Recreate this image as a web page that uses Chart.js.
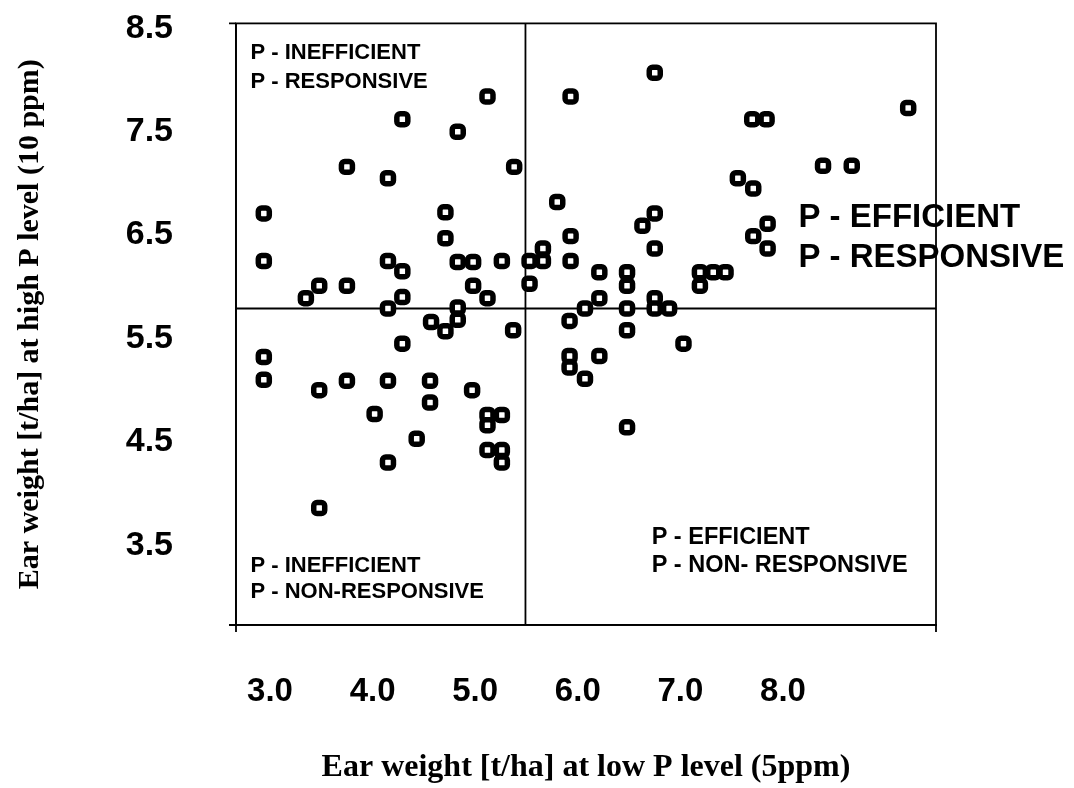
<!DOCTYPE html>
<html><head><meta charset="utf-8">
<script src="https://cdn.jsdelivr.net/npm/chart.js@4.4.1/dist/chart.umd.min.js"></script>
<style>html,body{margin:0;padding:0;background:#fff;}#wrap{width:1074px;height:788px;}</style>
</head><body><div id="wrap"><canvas id="c" width="1074" height="788"></canvas></div>
<script>
// Ear weight at low P level (x) and at high P level (y), t/ha
const lowP = [
  2.94, 2.94, 2.94, 2.94, 3.35, 3.48, 3.75, 3.75, 3.75, 3.48,
  3.48, 4.02, 4.15, 4.15, 4.15, 4.15, 4.15, 4.29, 4.29, 4.29,
  4.29, 4.43, 4.57, 4.56, 4.56, 4.71, 4.71, 4.71, 4.83, 4.83,
  4.83, 4.83, 4.98, 4.98, 4.97, 5.12, 5.12, 5.12, 5.12, 5.12,
  5.26, 5.26, 5.26, 5.26, 5.38, 5.37,
  5.53, 5.53, 5.66, 5.66, 5.80, 5.93, 5.93, 5.93, 5.92, 5.92,
  5.92, 6.07, 6.07, 6.21, 6.21, 6.21, 6.48, 6.48, 6.48, 6.48,
  6.48, 6.63, 6.75, 6.75, 6.75, 6.75, 6.75, 6.89, 7.03, 7.19,
  7.32, 7.44, 7.19, 7.56, 7.71, 7.70, 7.84, 7.71, 7.85, 7.85,
  8.39, 8.67, 9.22
];
const highP = [
  6.71, 6.25, 5.32, 5.10, 5.89, 6.01, 6.01, 7.16, 5.09, 5.00,
  3.86, 4.77, 7.05, 6.25, 5.79, 5.09, 4.30, 7.62, 6.15, 5.90,
  5.45, 4.53, 5.66, 5.09, 4.88, 6.72, 6.47, 5.57, 7.50, 6.24,
  5.80, 5.68, 6.24, 6.01, 5.00, 7.84, 5.89, 4.76, 4.66, 4.42,
  6.25, 4.76, 4.42, 4.30, 7.16, 5.58,
  6.25, 6.03, 6.37, 6.25, 6.82, 7.84, 6.49, 6.25, 5.67, 5.33,
  5.22, 5.79, 5.11, 6.14, 5.89, 5.33, 6.14, 6.01, 5.79, 5.58,
  4.64, 6.59, 8.07, 6.71, 6.37, 5.89, 5.79, 5.79, 5.45, 6.14,
  6.14, 6.14, 6.01, 7.05, 6.95, 7.62, 7.62, 6.49, 6.61, 6.37,
  7.17, 7.17, 7.73
];
const xTickValues = [3, 4, 5, 6, 7, 8];
const yTickValues = [3.5, 4.5, 5.5, 6.5, 7.5, 8.5];
const xRange = [2.669, 9.491];
const yRange = [2.728, 8.548];
const dividerX = 5.49;
const dividerY = 5.79;
const quadrantLines = [
  ["P - INEFFICIENT", "P - RESPONSIVE"],
  ["P - EFFICIENT", "P - RESPONSIVE"],
  ["P - INEFFICIENT", "P - NON-RESPONSIVE"],
  ["P - EFFICIENT", "P - NON- RESPONSIVE"]
];
const xTitle = "Ear weight [t/ha] at low P level (5ppm)";
const yTitle = "Ear weight [t/ha] at high P level (10 ppm)";

const points = lowP.map((x, i) => ({x: x, y: highP[i]}));

const SANS = '"Liberation Sans", Arial, sans-serif';
// quadrant label placement: [x value, first-line y value, line step in y units, font]
const quadrantPlace = [
  {x: 2.81, y: 8.26, dy: 0.28, font: 'bold 22px ' + SANS},
  {x: 8.15, y: 6.67, dy: 0.39, font: 'bold 33px ' + SANS},
  {x: 2.81, y: 3.30, dy: 0.25, font: 'bold 22px ' + SANS},
  {x: 6.72, y: 3.57, dy: 0.27, font: 'bold 23.5px ' + SANS}
];

const framePlugin = {
  id: 'frame',
  afterDraw(chart) {
    const {ctx, chartArea: a, scales} = chart;
    ctx.save();
    ctx.strokeStyle = '#000';
    ctx.lineWidth = 1.8;
    ctx.strokeRect(a.left, a.top, a.right - a.left, a.bottom - a.top);
    ctx.beginPath();
    ctx.moveTo(a.left - 7, a.top); ctx.lineTo(a.left, a.top);
    ctx.moveTo(a.left - 7, a.bottom); ctx.lineTo(a.left, a.bottom);
    ctx.moveTo(a.left, a.bottom); ctx.lineTo(a.left, a.bottom + 7);
    ctx.moveTo(a.right, a.bottom); ctx.lineTo(a.right, a.bottom + 7);
    ctx.stroke();
    ctx.fillStyle = '#000';
    ctx.textBaseline = 'middle';
    ctx.textAlign = 'left';
    quadrantLines.forEach((lines, qi) => {
      const p = quadrantPlace[qi];
      ctx.font = p.font;
      lines.forEach((t, li) => {
        ctx.fillText(t, scales.x.getPixelForValue(p.x), scales.y.getPixelForValue(p.y - li * p.dy));
      });
    });
    ctx.restore();
  }
};

new Chart(document.getElementById('c'), {
  type: 'scatter',
  data: {
    datasets: [
      {
        data: points,
        pointStyle: 'rectRounded',
        radius: 6.4,
        hoverRadius: 6.4,
        borderWidth: 5.5,
        borderColor: '#000',
        backgroundColor: '#fff'
      },
      {
        type: 'line',
        data: [{x: dividerX, y: yRange[0]}, {x: dividerX, y: yRange[1]}],
        borderColor: '#000', borderWidth: 1.8, pointRadius: 0, showLine: true, fill: false
      },
      {
        type: 'line',
        data: [{x: xRange[0], y: dividerY}, {x: xRange[1], y: dividerY}],
        borderColor: '#000', borderWidth: 1.8, pointRadius: 0, showLine: true, fill: false
      }
    ]
  },
  options: {
    responsive: false,
    animation: false,
    devicePixelRatio: 1,
    layout: {padding: {left: 0, right: 138, top: 22, bottom: 0}},
    plugins: {legend: {display: false}, tooltip: {enabled: false}},
    scales: {
      x: {
        type: 'linear', min: xRange[0], max: xRange[1],
        afterBuildTicks: s => { s.ticks = xTickValues.map(v => ({value: v})); },
        afterFit: s => { s.height = 163; },
        grid: {display: true, drawOnChartArea: false, drawTicks: true, tickLength: 44, tickColor: 'rgba(0,0,0,0)'},
        border: {display: true, color: '#000', width: 1.8},
        ticks: {
          padding: 3, color: '#000', maxRotation: 0, autoSkip: false,
          font: {family: SANS, size: 33, weight: 'bold'},
          callback: v => Number(v).toFixed(1)
        },
        title: {
          display: true, text: xTitle, color: '#000',
          font: {family: '"Liberation Serif", "Times New Roman", serif', size: 32, weight: 'bold'},
          padding: {top: 0, bottom: 1}
        }
      },
      y: {
        type: 'linear', min: yRange[0], max: yRange[1],
        afterBuildTicks: s => { s.ticks = yTickValues.map(v => ({value: v})); },
        afterFit: s => { s.width = 236; },
        grid: {display: true, drawOnChartArea: false, drawTicks: true, tickLength: 60, tickColor: 'rgba(0,0,0,0)'},
        border: {display: true, color: '#000', width: 1.8},
        ticks: {
          padding: 3, color: '#000', autoSkip: false,
          font: {family: SANS, size: 34, weight: 'bold'},
          callback: v => Number(v).toFixed(1)
        },
        title: {
          display: true, text: yTitle, color: '#000',
          font: {family: '"Liberation Serif", "Times New Roman", serif', size: 30, weight: 'bold'},
          padding: {top: 12, bottom: 0}
        }
      }
    }
  },
  plugins: [framePlugin]
});
</script></body></html>
